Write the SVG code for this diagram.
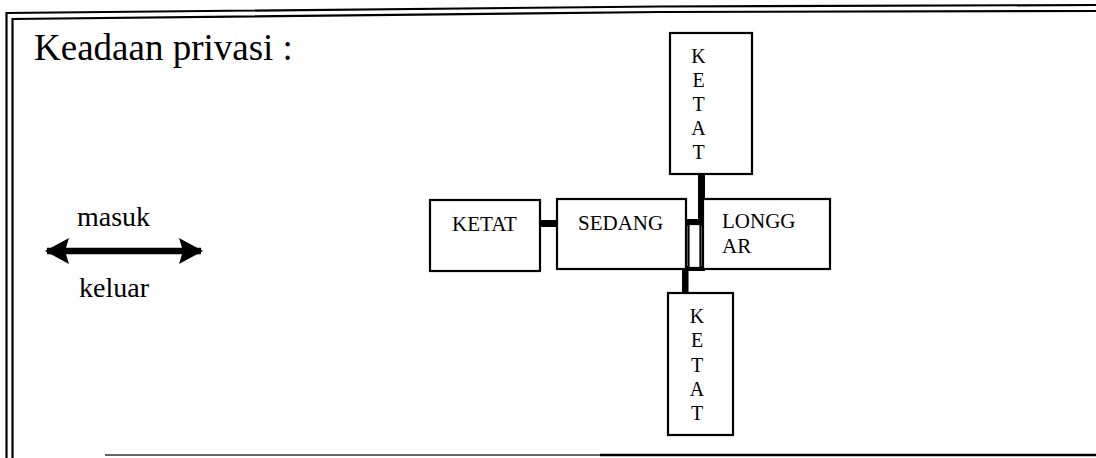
<svg xmlns="http://www.w3.org/2000/svg" width="1096" height="458" viewBox="0 0 1096 458">
  <style>
    .frame { fill: none; stroke: #000; stroke-width: 2.2; }
    .box { fill: #fff; stroke: #000; stroke-width: 2.2; }
    .lbl { font-family: "Liberation Serif", "Times New Roman", serif; fill: #000; }
    .box-lbl { font-size: 21px; }
    .vert { font-size: 20px; text-anchor: middle; }
    .link { fill: #000; }
  </style>
  <defs>
    <marker id="head" viewBox="0 0 24 26" refX="22" refY="13" markerWidth="24" markerHeight="26" markerUnits="userSpaceOnUse" orient="auto-start-reverse">
      <path d="M0,0 L24,13 L0,26 L4,13 Z" fill="#000"/>
    </marker>
  </defs>
  <rect width="1096" height="458" fill="#fff"/>

  <!-- double frame -->
  <g id="frame">
    <polyline class="frame" points="6.5,458 6.5,13 660,6.5 1096,5"/>
    <polyline class="frame" points="12.5,458 12.5,19 660,12 1096,11"/>
    <line x1="105" y1="455" x2="600" y2="455" stroke="#666" stroke-width="2"/>
    <line x1="600" y1="455" x2="1096" y2="455" stroke="#000" stroke-width="2.5"/>
  </g>

  <text id="title" class="lbl" x="34" y="60" font-size="37">Keadaan privasi :</text>

  <!-- direction legend -->
  <g id="legend">
    <text class="lbl" x="77" y="226" font-size="28">masuk</text>
    <line x1="47" y1="251" x2="201" y2="251" stroke="#000" stroke-width="6.5" marker-start="url(#head)" marker-end="url(#head)"/>
    <text class="lbl" x="79" y="297" font-size="28">keluar</text>
  </g>

  <!-- connectors -->
  <g id="connectors">
    <rect class="link" x="540" y="220" width="17" height="7"/>
    <rect class="link" x="698" y="174" width="7" height="52"/>
    <rect class="link" x="685" y="219" width="20" height="7"/>
    <rect class="link" x="683" y="266" width="22" height="5"/>
    <rect class="link" x="682" y="266" width="6.5" height="28"/>
  </g>

  <g id="node-ketat-left">
    <rect class="box" x="430" y="200" width="110" height="71"/>
    <text class="lbl box-lbl" x="452" y="231">KETAT</text>
  </g>

  <g id="node-sedang">
    <rect class="box" x="557" y="199" width="129" height="70"/>
    <text class="lbl box-lbl" x="578" y="230">SEDANG</text>
  </g>

  <g id="node-longgar">
    <rect class="box" x="703" y="199" width="127" height="70"/>
    <text class="lbl box-lbl" x="722" y="228">LONGG</text>
    <text class="lbl box-lbl" x="722" y="253">AR</text>
  </g>

  <g id="node-gap">
    <rect class="box" x="688.5" y="224" width="12" height="44" stroke-width="2.6"/>
  </g>

  <g id="node-ketat-top">
    <rect class="box" x="670" y="33" width="82" height="141"/>
    <text class="lbl vert" x="698.5" y="63">K</text>
    <text class="lbl vert" x="698.5" y="87">E</text>
    <text class="lbl vert" x="698.5" y="111">T</text>
    <text class="lbl vert" x="698.5" y="135">A</text>
    <text class="lbl vert" x="698.5" y="159">T</text>
  </g>

  <g id="node-ketat-bottom">
    <rect class="box" x="668" y="293" width="65" height="142"/>
    <text class="lbl vert" x="697" y="323">K</text>
    <text class="lbl vert" x="697" y="347">E</text>
    <text class="lbl vert" x="697" y="372">T</text>
    <text class="lbl vert" x="697" y="396">A</text>
    <text class="lbl vert" x="697" y="420">T</text>
  </g>
</svg>
